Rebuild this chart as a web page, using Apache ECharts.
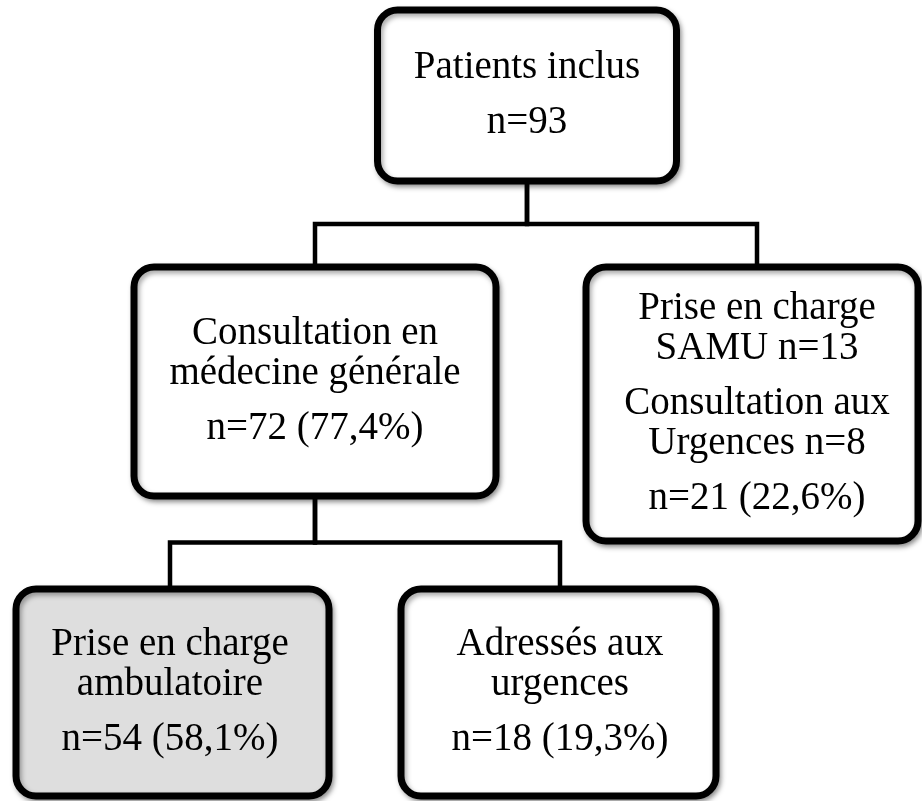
<!DOCTYPE html>
<html>
<head>
<meta charset="utf-8">
<script src="https://cdn.jsdelivr.net/npm/echarts@6/dist/echarts.min.js"></script>
<style>
  html, body { margin: 0; padding: 0; background: #fff; }
  #chart { width: 922px; height: 801px; }
</style>
</head>
<body>
<div id="chart"></div>
<script>
// contenu des cases du diagramme
const samuN = 13
const urgN = 8
const nodeText = [
  ['Patients inclus'],
  ['Consultation en\nmédecine générale'],
  ['Prise en charge\nSAMU n=' + samuN, 'Consultation aux\nUrgences n=' + urgN],
  ['Prise en charge\nambulatoire'],
  ['Adressés aux\nurgences']
]
const nodeN = [93, 72, 21, 54, 18]
const nodePct = ['', '77,4', '22,6', '58,1', '19,3']
// liens parent -> enfant
const links = [[0, 1], [0, 2], [1, 3], [1, 4]]

// mise en page (px) : x0, y0, x1, y1 du trait, et x du connecteur / texte
const boxes = [
  [377.5, 10, 676.5, 181],
  [134, 267, 496, 496],
  [586, 267, 918, 541],
  [16, 589, 329, 796],
  [401, 589, 716, 796]
]
const anchorX = [527, 315, 757, 170, 560]
const fills = ['#ffffff', '#ffffff', '#ffffff', '#dedede', '#ffffff']

const FONT = 'Liberation Serif'
const FS = 39
const LINE = 40
const PARA = 55

function paragraphs(i) {
  let p = nodeText[i].slice()
  let last = 'n=' + nodeN[i]
  if (nodePct[i]) last += ' (' + nodePct[i] + '%)'
  p.push(last)
  return p
}

let chart = echarts.init(document.getElementById('chart'))

let boxData = boxes.map((b, i) => [b[0], b[1], b[2], b[3], i])

let linkData = links.map(([a, b]) => {
  let pa = boxes[a], pb = boxes[b]
  let midY = (pa[3] + pb[1]) / 2
  return {
    coords: [[anchorX[a], pa[3]], [anchorX[a], midY], [anchorX[b], midY], [anchorX[b], pb[1]]]
  }
})

chart.setOption({
  animation: false,
  backgroundColor: '#fff',
  grid: { left: 0, right: 0, top: 0, bottom: 0 },
  xAxis: { type: 'value', min: 0, max: 922, show: false },
  yAxis: { type: 'value', min: 0, max: 801, inverse: true, show: false },
  series: [
    {
      type: 'lines',
      coordinateSystem: 'cartesian2d',
      polyline: true,
      z: 1,
      silent: true,
      lineStyle: { color: '#000', width: 4.5, opacity: 1, cap: 'square' },
      data: linkData
    },
    {
      type: 'custom',
      z: 2,
      silent: true,
      data: boxData,
      renderItem: (params, api) => {
        let i = api.value(4)
        let p0 = api.coord([api.value(0), api.value(1)])
        let p1 = api.coord([api.value(2), api.value(3)])
        let cy = (p0[1] + p1[1]) / 2
        let cx = api.coord([anchorX[i], 0])[0]
        // lignes de texte avec leur espacement
        let lines = []
        let y = 0
        paragraphs(i).forEach((para, k) => {
          para.split('\n').forEach((t, j) => {
            if (lines.length) y += (j === 0 ? PARA : LINE)
            lines.push({ t, y })
          })
        })
        let offset = cy - y / 2
        let children = [{
          type: 'rect',
          shape: { x: p0[0], y: p0[1], width: p1[0] - p0[0], height: p1[1] - p0[1], r: 20 },
          style: {
            fill: fills[i],
            stroke: '#000',
            lineWidth: 7,
            shadowBlur: 5,
            shadowOffsetX: 2,
            shadowOffsetY: 3,
            shadowColor: 'rgba(0,0,0,0.35)'
          }
        }]
        lines.forEach(l => {
          children.push({
            type: 'text',
            x: cx,
            y: offset + l.y,
            style: {
              text: l.t,
              fill: '#000',
              fontSize: FS,
              fontFamily: FONT,
              align: 'center',
              verticalAlign: 'middle'
            }
          })
        })
        return { type: 'group', children }
      }
    }
  ]
})
</script>
</body>
</html>
